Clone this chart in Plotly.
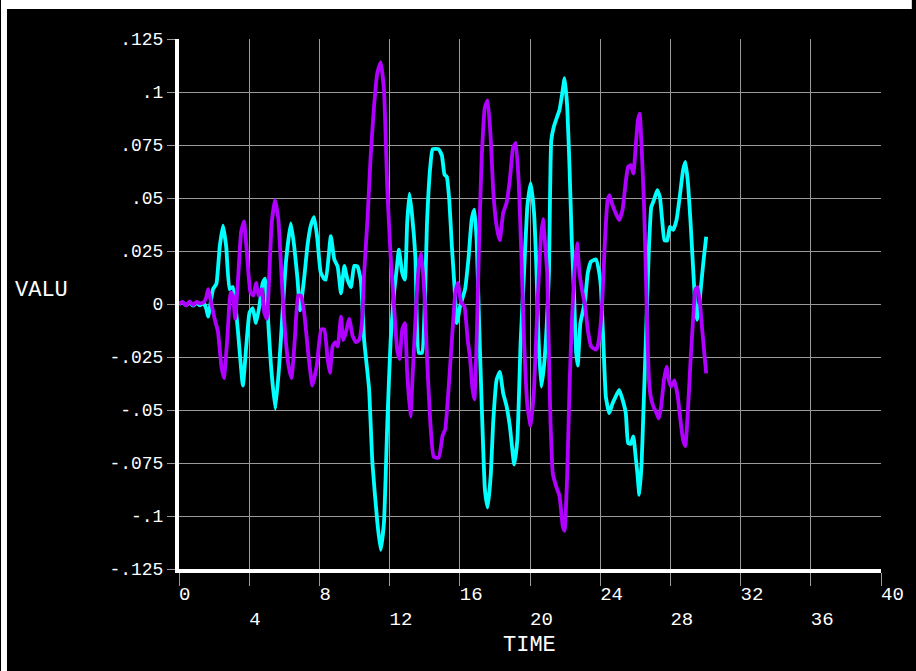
import plotly.graph_objects as go

# Time history of two response components (TIME vs VALU)
t_cyan = [0.0, 0.2, 0.4, 0.6, 0.8, 1.0, 1.2, 1.4, 1.55, 1.66, 1.94, 2.13, 2.32, 2.51, 2.69, 2.88,
          3.07, 3.35, 3.64, 3.83, 4.02, 4.2, 4.39, 4.58, 4.77, 4.9, 5.05, 5.24, 5.49, 5.71, 5.9,
          6.09, 6.37, 6.56, 6.75, 6.9, 7.13, 7.32, 7.51, 7.7, 7.88, 8.07, 8.26, 8.37, 8.65, 8.85,
          9.04, 9.23, 9.42, 9.6, 9.8, 9.98, 10.17, 10.36, 10.55, 10.83, 11.02, 11.3, 11.49, 11.68,
          11.87, 12.06, 12.25, 12.38, 12.53, 12.72, 12.87, 13.0, 13.13, 13.28, 13.47, 13.66, 13.85,
          14.0, 14.13, 14.32, 14.45, 14.8, 14.98, 15.13, 15.26, 15.4, 15.55, 15.7, 15.83, 16.02,
          16.3, 16.5, 16.68, 16.83, 16.96, 17.1, 17.25, 17.43, 17.59, 17.77, 17.9, 18.1, 18.28,
          18.47, 18.66, 18.85, 19.1, 19.28, 19.47, 19.66, 19.85, 20.04, 20.23, 20.36, 20.49, 20.64,
          20.8, 20.95, 21.08, 21.21, 21.36, 21.49, 21.68, 21.83, 21.97, 22.12, 22.25, 22.38, 22.5,
          22.63, 22.72, 22.87, 23.0, 23.14, 23.29, 23.48, 23.76, 23.95, 24.04, 24.19, 24.32, 24.51,
          24.7, 24.89, 25.08, 25.27, 25.46, 25.59, 25.74, 25.89, 26.02, 26.12, 26.23, 26.36, 26.46,
          26.59, 26.68, 26.78, 26.91, 27.06, 27.25, 27.4, 27.53, 27.66, 27.82, 27.97, 28.16, 28.35,
          28.53, 28.72, 28.85, 28.99, 29.14, 29.29, 29.42, 29.52, 29.61, 29.74, 29.89, 30.04]
v_cyan = [0.0, 0.0008, -0.0005, 0.0007, -0.0008, 0.0005, -0.0006, 0.0004, -0.002, -0.006, 0.007,
          0.0095, 0.027, 0.037, 0.027, 0.007, 0.008, -0.012, -0.0385, -0.020, -0.004, -0.002,
          -0.009, -0.001, 0.010, 0.012, -0.004, -0.029, -0.0495, -0.029, -0.004, 0.0196, 0.038,
          0.0275, 0.012, -0.003, 0.012, 0.0275, 0.037, 0.041, 0.031, 0.015, 0.012, 0.0115, 0.032,
          0.021, 0.0177, 0.005, 0.018, 0.0115, 0.008, 0.018, 0.0177, 0.011, -0.017, -0.040, -0.075,
          -0.103, -0.116, -0.103, -0.056, -0.017, 0.005, 0.0146, 0.0256, 0.0146, 0.0115, 0.038,
          0.052, 0.042, 0.022, -0.023, -0.023, -0.001, 0.038, 0.065, 0.073, 0.073, 0.070, 0.061,
          0.060, 0.049, 0.027, 0.008, -0.009, -0.001, 0.007, 0.022, 0.040, 0.0445, 0.030, -0.009,
          -0.048, -0.0875, -0.096, -0.080, -0.056, -0.0356, -0.032, -0.042, -0.048, -0.0576,
          -0.0757, -0.064, -0.017, 0.0146, 0.046, 0.057, 0.043, 0.018, -0.017, -0.039, -0.029,
          -0.0105, 0.0146, 0.077, 0.0837, 0.087, 0.0915, 0.099, 0.1065, 0.093, 0.065, 0.030,
          0.0068, -0.023, -0.029, -0.009, -0.004, 0.002, 0.0146, 0.020, 0.021, 0.0146, 0.008,
          -0.020, -0.0436, -0.0515, -0.047, -0.0436, -0.0405, -0.045, -0.0515, -0.0656, -0.066,
          -0.0625, -0.072, -0.080, -0.090, -0.075, -0.0515, -0.020, 0.0035, 0.027, 0.0458, 0.049,
          0.0537, 0.0505, 0.0396, 0.030, 0.030, 0.0364, 0.035, 0.0396, 0.0505, 0.063, 0.067, 0.058,
          0.0396, 0.0176, -0.001, -0.0075, -0.003, 0.008, 0.0207, 0.0317]

t_purple = [0.0, 0.2, 0.4, 0.6, 0.8, 1.0, 1.2, 1.4, 1.55, 1.66, 1.85, 2.03, 2.22, 2.41, 2.56, 2.75,
            2.94, 3.07, 3.2, 3.39, 3.54, 3.7, 3.88, 4.07, 4.24, 4.39, 4.53, 4.71, 4.86, 5.0, 5.15,
            5.28, 5.47, 5.66, 5.85, 6.03, 6.24, 6.41, 6.6, 6.79, 6.94, 7.13, 7.36, 7.6, 7.85, 8.1,
            8.28, 8.47, 8.6, 8.75, 8.9, 9.04, 9.23, 9.36, 9.5, 9.7, 9.89, 10.08, 10.26, 10.42,
            10.55, 10.74, 10.92, 11.11, 11.3, 11.49, 11.68, 11.87, 12.06, 12.25, 12.43, 12.57,
            12.72, 12.87, 13.0, 13.19, 13.32, 13.51, 13.66, 13.81, 14.0, 14.13, 14.32, 14.51, 14.8,
            15.02, 15.17, 15.36, 15.55, 15.74, 15.89, 16.08, 16.26, 16.45, 16.58, 16.72, 16.83,
            16.96, 17.1, 17.25, 17.43, 17.59, 17.77, 17.9, 18.1, 18.28, 18.47, 18.66, 18.85, 19.04,
            19.19, 19.36, 19.51, 19.66, 19.85, 20.04, 20.23, 20.42, 20.61, 20.74, 20.87, 20.98,
            21.06, 21.17, 21.3, 21.49, 21.68, 21.87, 21.97, 22.12, 22.25, 22.38, 22.53, 22.68,
            22.82, 23.0, 23.14, 23.29, 23.48, 23.76, 23.85, 24.0, 24.13, 24.27, 24.42, 24.53, 24.7,
            24.89, 25.08, 25.27, 25.46, 25.59, 25.74, 25.89, 26.02, 26.15, 26.25, 26.36, 26.5,
            26.61, 26.68, 26.78, 26.91, 27.06, 27.21, 27.34, 27.48, 27.63, 27.78, 27.91, 28.04,
            28.23, 28.42, 28.57, 28.72, 28.85, 28.99, 29.14, 29.29, 29.42, 29.55, 29.7, 29.8,
            29.93, 30.04]
v_purple = [0.0, 0.001, -0.0008, 0.0012, -0.0005, 0.001, 0.0003, 0.0008, 0.003, 0.007, 0.0,
            -0.007, -0.013, -0.029, -0.035, -0.0165, 0.0055, 0.004, -0.007, 0.015, 0.034, 0.039,
            0.023, 0.0055, 0.004, 0.010, 0.004, 0.007, -0.004, -0.007, 0.015, 0.038, 0.049, 0.040,
            0.012, -0.012, -0.029, -0.035, -0.0165, 0.004, 0.004, -0.004, -0.023, -0.0385, -0.029,
            -0.012, -0.012, -0.026, -0.0325, -0.020, -0.018, -0.020, -0.006, -0.017, -0.0137,
            -0.007, -0.015, -0.018, -0.017, -0.009, 0.0146, 0.040, 0.0695, 0.093, 0.109, 0.114,
            0.101, 0.054, 0.0225, -0.001, -0.0215, -0.026, -0.012, -0.009, -0.0325, -0.053,
            -0.0325, -0.001, 0.0177, 0.024, 0.002, -0.025, -0.056, -0.072, -0.0725, -0.062, -0.059,
            -0.040, -0.017, 0.005, 0.010, 0.0005, -0.001, -0.017, -0.025, -0.040, -0.045, -0.017,
            0.030, 0.0695, 0.093, 0.096, 0.077, 0.054, 0.0366, 0.030, 0.043, 0.0476, 0.0585, 0.074,
            0.076, 0.057, 0.0225, -0.017, -0.048, -0.0576, -0.040, -0.001, 0.030, 0.040, 0.027,
            0.0146, -0.017, -0.056, -0.080, -0.086, -0.0905, -0.105, -0.107, -0.080, -0.040,
            -0.009, 0.0146, 0.0287, 0.0146, 0.005, -0.001, -0.012, -0.020, -0.0215, -0.020, -0.012,
            0.0035, 0.030, 0.049, 0.0513, 0.0466, 0.0427, 0.0396, 0.0443, 0.058, 0.0647, 0.0655,
            0.0615, 0.074, 0.0867, 0.0898, 0.074, 0.0458, 0.0113, -0.012, -0.036, -0.045, -0.049,
            -0.0515, -0.054, -0.048, -0.036, -0.0295, -0.036, -0.039, -0.036, -0.0436, -0.0546,
            -0.064, -0.067, -0.0515, -0.028, -0.0075, 0.0066, 0.008, -0.001, -0.011, -0.023,
            -0.0327]

x_ticks = [0, 4, 8, 12, 16, 20, 24, 28, 32, 36, 40]
x_tick_labels = ["0", "4", "8", "12", "16", "20", "24", "28", "32", "36", "40"]
y_ticks = [0.125, 0.1, 0.075, 0.05, 0.025, 0.0, -0.025, -0.05, -0.075, -0.1, -0.125]
y_tick_labels = [".125", ".1", ".075", ".05", ".025", "0", "-.025", "-.05", "-.075", "-.1", "-.125"]

W, H = 916, 671
L, R, T, B = 179, 885, 39, 569
NB = "\u00a0"
MONO = "Liberation Mono, Courier New, monospace"
GRID = "#9a9a9a"


def px_x(p):
    return (p - L) / (R - L)


def px_y(p):
    return (B - p) / (B - T)


# labels start at their tick; every other label drops to a second row
x_text = []
for i, lab in enumerate(x_tick_labels):
    s = NB * len(lab) + lab
    x_text.append(("<br>" + s) if i % 2 else s)

fig = go.Figure()
fig.add_trace(go.Scatter(x=t_cyan, y=v_cyan, mode="lines",
                         line=dict(color="#00FFFF", width=3.8, shape="spline", smoothing=0.4),
                         showlegend=False))
fig.add_trace(go.Scatter(x=t_purple, y=v_purple, mode="lines",
                         line=dict(color="#B000FF", width=3.8, shape="spline", smoothing=0.4),
                         showlegend=False))

fig.update_layout(
    width=W, height=H,
    margin=dict(l=L, r=W - R, t=T, b=H - B, pad=0),
    paper_bgcolor="black", plot_bgcolor="black",
    font=dict(family=MONO, color="white", size=18),
    xaxis=dict(range=[0, 40], tickvals=x_ticks, ticktext=x_text,
               showgrid=True, gridcolor=GRID, gridwidth=1, zeroline=False,
               showline=True, linecolor="white", linewidth=4,
               ticks="outside", ticklen=13, tickcolor=GRID, tickwidth=1,
               ticklabelstandoff=-9,
               tickfont=dict(family=MONO, size=19, color="white")),
    yaxis=dict(range=[-0.125, 0.125], tickvals=y_ticks, ticktext=y_tick_labels,
               showgrid=True, gridcolor=GRID, gridwidth=1, zeroline=False,
               showline=True, linecolor="white", linewidth=4,
               ticks="outside", ticklen=8, tickcolor=GRID, tickwidth=1,
               tickfont=dict(family=MONO, size=18, color="white")),
    shapes=[
        # white frame strips along the top and left edges of the page
        dict(type="rect", xref="paper", yref="paper", x0=px_x(0), x1=px_x(W),
             y0=px_y(9), y1=px_y(0), fillcolor="white", line=dict(width=0), layer="above"),
        dict(type="rect", xref="paper", yref="paper", x0=px_x(0), x1=px_x(6),
             y0=px_y(H), y1=px_y(0), fillcolor="white", line=dict(width=0), layer="above"),
    ],
    annotations=[
        dict(text="VALU", xref="paper", yref="paper", x=px_x(12), y=px_y(290),
             xanchor="left", yanchor="middle", showarrow=False,
             font=dict(family=MONO, size=22, color="white")),
        dict(text="TIME", xref="paper", yref="paper", x=px_x(531), y=px_y(645),
             xanchor="center", yanchor="middle", showarrow=False,
             font=dict(family=MONO, size=22, color="white")),
    ],
)

fig.write_html("out.html")
